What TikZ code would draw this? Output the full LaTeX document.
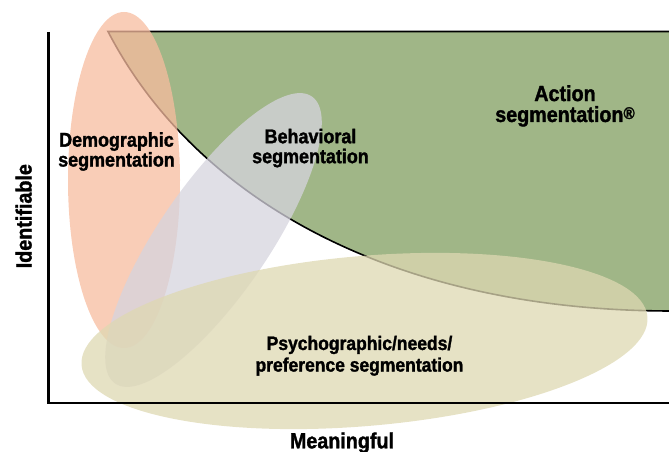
\documentclass[tikz,border=0pt]{standalone}
\usepackage{fontspec}
\setmainfont{Liberation Sans}[FakeStretch=0.9, BoldFeatures={FakeBold=1.5}]

\definecolor{actiongreen}{RGB}{160,182,135}
\definecolor{demoorange}{RGB}{247,188,159}
\definecolor{behavgray}{RGB}{214,212,222}
\definecolor{psychokhaki}{RGB}{222,216,178}

\begin{document}
\begin{tikzpicture}[x=1bp, y=1bp,
    seglabel/.style={font=\bfseries\fontsize{20}{20}\selectfont, align=center, inner sep=0pt},
    axislabel/.style={font=\bfseries\fontsize{22}{22}\selectfont, inner sep=0pt},
    blob/.style={fill opacity=0.75}]
  \useasboundingbox (0,0) rectangle (669,452);

  % action segmentation area
  \coordinate (start) at (108,420.5);
  \coordinate (corner) at (672,420.5);
  \coordinate (tail) at (672,141);
  \fill[actiongreen] (start) .. controls (190,262) and (380,141) .. (tail) -- (corner) -- cycle;
  \draw[line width=1.6bp] (corner) -- (start) .. controls (190,262) and (380,141) .. (tail);

  % the three segment ellipses
  \fill[demoorange, blob] (124,272) ellipse [x radius=56, y radius=168];
  \fill[behavgray, blob, rotate around={55.6:(213.5,212)}] (213.5,212) ellipse [x radius=174, y radius=55];
  \fill[psychokhaki, blob, rotate around={4.9:(364.5,111)}] (364.5,111) ellipse [x radius=284, y radius=85];

  % axes
  \coordinate (origin) at (48.5,49);
  \coordinate (ytop) at (48.5,420);
  \coordinate (xend) at (672,49);
  \draw[line width=2.7bp] (ytop) -- (origin) -- (xend);

  \node[seglabel] (demo) at (116.5,300.5) {Demographic\\segmentation};
  \node[seglabel] (behav) at (310.5,303.9) {Behavioral\\segmentation};
  \node[seglabel, font=\bfseries\fontsize{22}{21}\selectfont] (action) at (565,346.1)
    {Action\\segmentation\raisebox{3bp}{\fontsize{17}{17}\selectfont\textregistered}};
  \node[seglabel, font=\bfseries\fontsize{19.5}{21.7}\selectfont] (psycho) at (359.5,96.2)
    {Psychographic/needs/\\preference segmentation};
  \node[axislabel, rotate=90] (yname) at (23.7,235.8) {Identifiable};
  \node[axislabel, anchor=base] (xname) at (342,3.7) {Meaningful};
\end{tikzpicture}
\end{document}
